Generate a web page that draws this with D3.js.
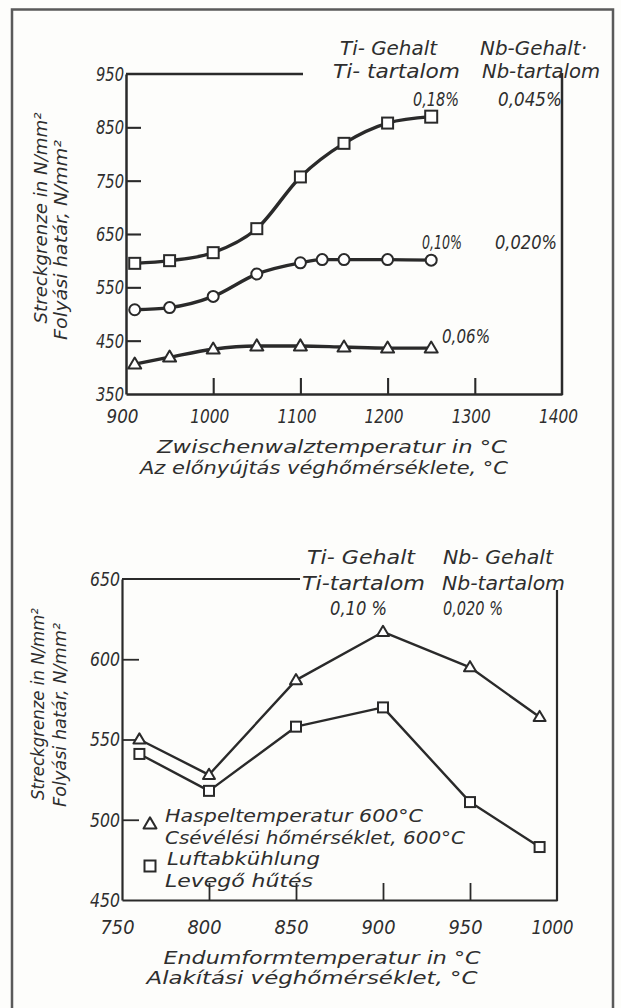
<!DOCTYPE html>
<html>
<head>
<meta charset="utf-8">
<script src="https://cdn.jsdelivr.net/npm/d3@7"></script>
<style>
  html, body { margin: 0; padding: 0; background: #fdfdfb; }
  svg { display: block; }
  text {
    font-family: "DejaVu Sans Condensed", "DejaVu Sans", sans-serif;
    font-style: oblique;
    fill: #2e2e2e;
  }
</style>
</head>
<body>
<svg id="chart" width="621" height="1008"></svg>
<script>
// ---------- Upper panel: yield strength vs. intermediate rolling temperature ----------
const topTempsA = [910, 950, 1000, 1050, 1100, 1150, 1200, 1250];          // °C
const topSquare = [595, 600, 615, 660, 757, 820, 858, 870];                  // Ti 0,18 % / Nb 0,045 %
const topTempsB = [910, 950, 1000, 1050, 1100, 1125, 1150, 1200, 1250];
const topCircle = [508, 512, 533, 575, 596, 602, 602, 602, 601];             // Ti 0,10 % / Nb 0,020 %
const topTriangle = [406, 419, 434, 440, 440, 438, 436, 436];                // Ti 0,06 %
const topXTicks = [900, 1000, 1100, 1200, 1300, 1400];
const topYTicks = [350, 450, 550, 650, 750, 850, 950];

// ---------- Lower panel: yield strength vs. finish forming temperature ----------
const botTemps = [760, 800, 850, 900, 950, 990];                             // °C
const botTriangle = [550, 528, 587, 617, 595, 564];                          // coiling 600 °C
const botSquare = [541, 518, 558, 570, 511, 483];                            // air cooling
const botXTicks = [750, 800, 850, 900, 950, 1000];
const botYTicks = [450, 500, 550, 600, 650];

const INK = "#2a2a2a";
const svg = d3.select("#chart");

// page frame
svg.append("path").attr("d", "M12,1008 L12,9.5 L613,9.5 L613,1008")
  .attr("stroke", "#5a5a5a").attr("stroke-width", 2.5).attr("fill", "none");

// helper for fitted text
function label(g, x, y, str, width, size, anchor = "start") {
  const t = g.append("text")
    .attr("x", x).attr("y", y)
    .attr("text-anchor", anchor)
    .attr("dominant-baseline", "central")
    .attr("font-size", size)
    .text(str);
  if (width) t.attr("textLength", width).attr("lengthAdjust", "spacingAndGlyphs");
  return t;
}

// marker generators
function square(g, x, y, s) {
  g.append("rect").attr("x", x - s / 2).attr("y", y - s / 2).attr("width", s).attr("height", s)
    .attr("fill", "#fff").attr("stroke", INK).attr("stroke-width", 2);
}
function circle(g, x, y, r) {
  g.append("circle").attr("cx", x).attr("cy", y).attr("r", r)
    .attr("fill", "#fff").attr("stroke", INK).attr("stroke-width", 2);
}
function triangle(g, x, y, s) {
  const h = s * 0.85;
  g.append("path")
    .attr("d", `M${x},${y - h * 0.6} L${x + s / 2},${y + h * 0.4} L${x - s / 2},${y + h * 0.4} Z`)
    .attr("fill", "#fff").attr("stroke", INK).attr("stroke-width", 2).attr("stroke-linejoin", "round");
}

function styleAxis(a, w) {
  a.attr("font-family", null).attr("font-size", null);
  a.select(".domain").attr("stroke", INK).attr("stroke-width", w);
  a.selectAll(".tick line").attr("stroke", INK).attr("stroke-width", w - 0.4);
  a.selectAll(".tick text").attr("font-size", 20).attr("fill", "#2e2e2e");
}

// ================= Upper panel =================
{
  const x = d3.scaleLinear().domain([900, 1400]).range([126, 562]);
  const y = d3.scaleLinear().domain([350, 950]).range([394, 74]);
  const g = svg.append("g");

  // axes built with d3.axis, inward ticks
  const yAxis = d3.axisLeft(y).tickValues(topYTicks).tickSizeInner(-15).tickSizeOuter(0).tickPadding(3)
    .tickFormat(d3.format("d"));
  const ya = g.append("g").attr("transform", `translate(${x(900)},0)`).call(yAxis);
  const xAxis = d3.axisBottom(x).tickValues(topXTicks).tickSizeInner(-16).tickSizeOuter(0).tickPadding(22)
    .tickFormat(d3.format("d"));
  const xa = g.append("g").attr("transform", `translate(0,${y(350)})`).call(xAxis);

  styleAxis(ya, 2.5);
  styleAxis(xa, 2.5);
  ya.selectAll(".tick").filter(d => d === 350 || d === 950).select("line").remove();
  xa.selectAll(".tick").filter(d => d === 900 || d === 1400).select("line").remove();
  ya.selectAll(".tick text").attr("x", -2).attr("textLength", 28).attr("lengthAdjust", "spacingAndGlyphs");
  xa.selectAll(".tick text").attr("dx", -4).attr("dy", 0).attr("dominant-baseline", "central")
    .attr("textLength", d => d >= 1000 ? 39 : 32).attr("lengthAdjust", "spacingAndGlyphs");

  // top rule from the 950 corner and right-hand frame line
  g.append("line").attr("x1", x(900)).attr("x2", 303).attr("y1", y(950)).attr("y2", y(950))
    .attr("stroke", INK).attr("stroke-width", 2.5);
  g.append("line").attr("x1", x(1400)).attr("x2", x(1400)).attr("y1", 73).attr("y2", y(350) + 1)
    .attr("stroke", INK).attr("stroke-width", 2.5);

  // curves
  const curve = d3.line().curve(d3.curveMonotoneX).x(d => x(d[0])).y(d => y(d[1]));
  const sq = d3.zip(topTempsA, topSquare);
  const ci = d3.zip(topTempsB, topCircle);
  const tr = d3.zip(topTempsA, topTriangle);
  [sq, ci, tr].forEach(s => g.append("path").attr("d", curve(s)).attr("fill", "none")
    .attr("stroke", INK).attr("stroke-width", 3.4).attr("stroke-linecap", "round"));
  sq.forEach((d, i) => square(g, x(d[0]), y(d[1]), i === sq.length - 1 ? 12 : 11));
  ci.forEach(d => circle(g, x(d[0]), y(d[1]), 5.5));
  tr.forEach(d => triangle(g, x(d[0]), y(d[1]), 13));

  // header and series labels
  label(g, 340, 48, "Ti- Gehalt", 97, 19);
  label(g, 480, 48, "Nb-Gehalt·", 107, 19);
  label(g, 333, 71, "Ti- tartalom", 127, 19);
  label(g, 482, 71, "Nb-tartalom", 118, 19);
  label(g, 413, 99, "0,18%", 46, 19);
  label(g, 498, 99, "0,045%", 64, 19);
  label(g, 422, 242, "0,10%", 40, 19);
  label(g, 495, 242, "0,020%", 62, 19);
  label(g, 442, 336, "0,06%", 48, 19);

  // axis titles
  label(g, 332, 446, "Zwischenwalztemperatur in °C", 350, 18, "middle");
  label(g, 324, 467, "Az előnyújtás véghőmérséklete, °C", 368, 18, "middle");
  label(g, 0, 0, "Streckgrenze in N/mm²", 211, 17, "middle")
    .attr("transform", "translate(41,218) rotate(-90)");
  label(g, 0, 0, "Folyási határ, N/mm²", 200, 17, "middle")
    .attr("transform", "translate(61,240) rotate(-90)");
}

// ================= Lower panel =================
{
  const x = d3.scaleLinear().domain([750, 1000]).range([122, 557]);
  const y = d3.scaleLinear().domain([450, 650]).range([900, 579]);
  const g = svg.append("g");

  const yAxis = d3.axisLeft(y).tickValues(botYTicks).tickSizeInner(-17).tickSizeOuter(0).tickPadding(3)
    .tickFormat(d3.format("d"));
  const ya = g.append("g").attr("transform", `translate(${x(750)},0)`).call(yAxis);
  const xAxis = d3.axisBottom(x).tickValues(botXTicks).tickSizeInner(-17).tickSizeOuter(0).tickPadding(27)
    .tickFormat(d3.format("d"));
  const xa = g.append("g").attr("transform", `translate(0,${y(450)})`).call(xAxis);

  styleAxis(ya, 2.2);
  styleAxis(xa, 2.2);
  ya.selectAll(".tick").filter(d => d === 450 || d === 650).select("line").remove();
  xa.selectAll(".tick").filter(d => d === 750 || d === 1000).select("line").remove();
  ya.selectAll(".tick text").attr("x", -2).attr("textLength", 30).attr("lengthAdjust", "spacingAndGlyphs");
  xa.selectAll(".tick text").attr("dx", -5).attr("dy", 0).attr("dominant-baseline", "central")
    .attr("textLength", d => d >= 1000 ? 42 : 34).attr("lengthAdjust", "spacingAndGlyphs");

  g.append("line").attr("x1", x(750)).attr("x2", 300).attr("y1", y(650)).attr("y2", y(650))
    .attr("stroke", INK).attr("stroke-width", 2.2);
  g.append("line").attr("x1", x(1000)).attr("x2", x(1000)).attr("y1", 590).attr("y2", y(450) + 1)
    .attr("stroke", INK).attr("stroke-width", 2.2);

  const line = d3.line().x(d => x(d[0])).y(d => y(d[1]));
  const tr = d3.zip(botTemps, botTriangle);
  const sq = d3.zip(botTemps, botSquare);
  [tr, sq].forEach(s => g.append("path").attr("d", line(s)).attr("fill", "none")
    .attr("stroke", INK).attr("stroke-width", 2.4).attr("stroke-linejoin", "round"));
  tr.forEach(d => triangle(g, x(d[0]), y(d[1]), 12));
  sq.forEach(d => square(g, x(d[0]), y(d[1]), 10));

  // header
  label(g, 307, 557, "Ti- Gehalt", 108, 20);
  label(g, 443, 557, "Nb- Gehalt", 110, 20);
  label(g, 302, 583, "Ti-tartalom", 123, 20);
  label(g, 442, 583, "Nb-tartalom", 123, 20);
  label(g, 330, 608, "0,10 %", 57, 19);
  label(g, 443, 608, "0,020 %", 60, 19);

  // legend
  triangle(g, 150, 824, 13);
  label(g, 165, 815, "Haspeltemperatur 600°C", 258, 18);
  label(g, 165, 837, "Csévélési hőmérséklet, 600°C", 300, 18);
  square(g, 150, 866, 11);
  label(g, 167, 858, "Luftabkühlung", 153, 18);
  label(g, 165, 880, "Levegő hűtés", 148, 18);

  // axis titles
  label(g, 322, 957, "Endumformtemperatur in °C", 317, 18, "middle");
  label(g, 312, 977, "Alakítási véghőmérséklet, °C", 331, 18, "middle");
  label(g, 0, 0, "Streckgrenze in N/mm²", 192, 17, "middle")
    .attr("transform", "translate(38,704) rotate(-90)");
  label(g, 0, 0, "Folyási határ, N/mm²", 184, 17, "middle")
    .attr("transform", "translate(60,715) rotate(-90)");
}
</script>
</body>
</html>
